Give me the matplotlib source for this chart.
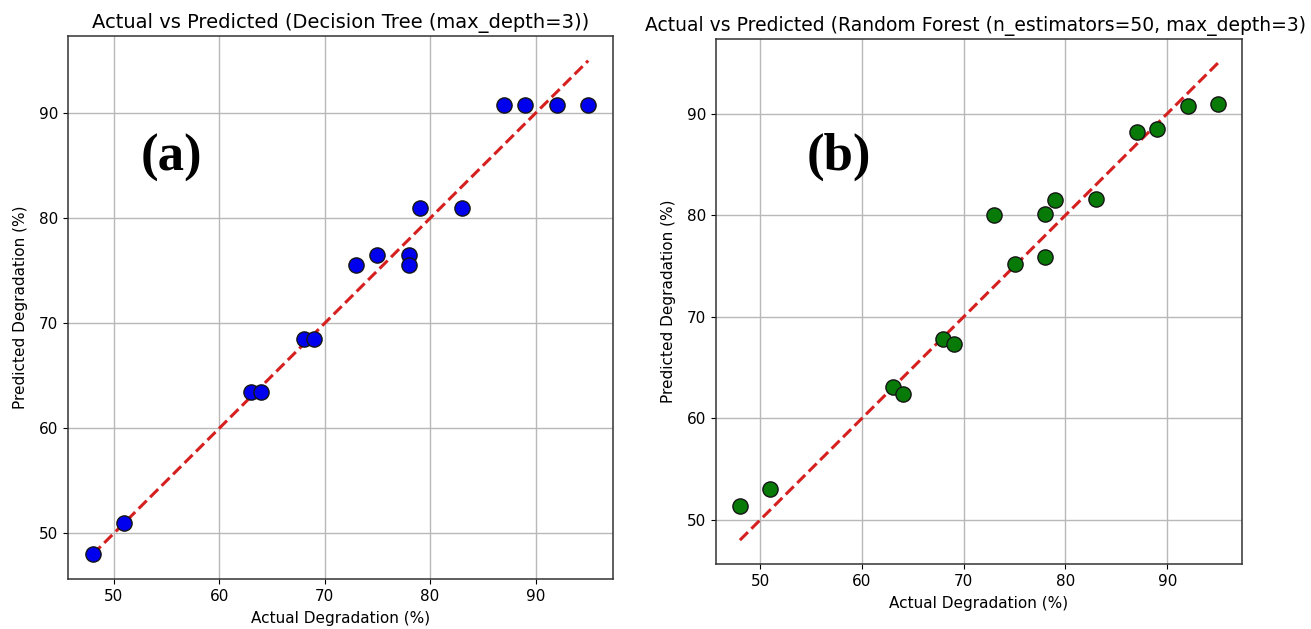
"""Actual vs predicted degradation for two tree models, side by side"""
import matplotlib
matplotlib.use("Agg")
import matplotlib.pyplot as plt

actual = [48, 51, 63, 64, 68, 69, 73, 75, 78, 78, 79, 83, 87, 89, 92, 95]
pred_tree = [48.0, 51.0, 63.5, 63.5, 68.5, 68.5, 75.5, 76.5, 76.5, 75.5,
             81.0, 81.0, 90.75, 90.75, 90.75, 90.75]
pred_forest = [51.4, 53.0, 63.1, 62.4, 67.8, 67.3, 80.0, 75.2, 80.1, 75.9,
               81.5, 81.6, 88.2, 88.5, 90.8, 90.9]

titles = ["Actual vs Predicted (Decision Tree (max_depth=3))",
          "Actual vs Predicted (Random Forest (n_estimators=50, max_depth=3)"]
panel_labels = ["(a)", "(b)"]


def draw(ax, pred, color, label, label_pos):
    """one scatter panel with the ideal line"""
    ax.scatter(actual, pred, s=120, color=color, edgecolors="#151515",
               linewidths=1.0, zorder=3)
    lo, hi = min(actual), max(actual)
    ax.plot([lo, hi], [lo, hi], "--", color="#d62020", linewidth=2.2, zorder=2)
    ax.set_xlabel("Actual Degradation (%)", fontsize=11, labelpad=5)
    ax.set_ylabel("Predicted Degradation (%)", fontsize=11, labelpad=8)
    ax.tick_params(labelsize=11)
    ax.grid(True, color="#b8b8b8", linewidth=1.0)
    ax.set_axisbelow(True)
    for spine in ax.spines.values():
        spine.set_linewidth(1.1)
        spine.set_color("#333333")
    ax.set_xticks([50, 60, 70, 80, 90])
    ax.set_yticks([50, 60, 70, 80, 90])
    ax.text(label_pos[0], label_pos[1], label, transform=ax.transAxes,
            fontsize=38, fontweight="bold", family="Liberation Serif",
            ha="center", va="center")


W, H = 1311, 629
fig = plt.figure(figsize=(W / 100, H / 100), dpi=100)
ax1 = fig.add_axes([68 / W, 1 - 579 / H, 545 / W, 543 / H])
ax2 = fig.add_axes([716 / W, 1 - 564 / H, 526 / W, 525 / H])

draw(ax1, pred_tree, "#0000ee", panel_labels[0], (0.19, 0.776))
draw(ax2, pred_forest, "#087a08", panel_labels[1], (0.234, 0.775))

ax1.set_title(titles[0], fontsize=14, pad=6)
# the long title runs up to the right edge of the figure
ax2.set_title(titles[1], fontsize=13.5, pad=6, loc="left", x=-0.135)

fig.savefig("out.png", dpi=100)
